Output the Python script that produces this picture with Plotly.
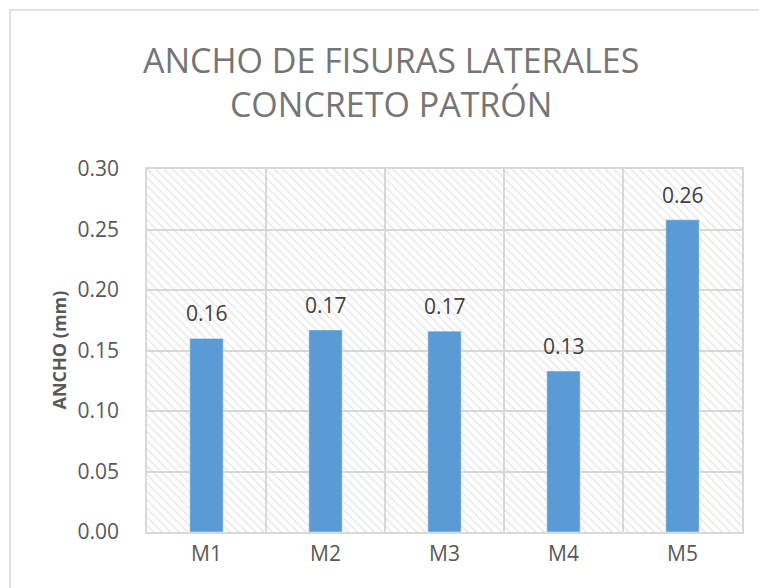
import plotly.graph_objects as go

categories = ["M1", "M2", "M3", "M4", "M5"]
values = [0.160, 0.167, 0.166, 0.133, 0.258]
y_ticks = [0.00, 0.05, 0.10, 0.15, 0.20, 0.25, 0.30]
title_lines = ["ANCHO DE FISURAS LATERALES", "CONCRETO PATRÓN"]
y_title = "ANCHO (mm)"

FONT = "Open Sans"
GRID = "#d9d9d9"
TXT = "#595959"

fig = go.Figure()

# hatched plot-area background on hidden base axes
fig.add_trace(go.Scatter(
    x=[0, 1, 1, 0, 0], y=[0, 0, 1, 1, 0], mode="lines", fill="toself",
    line=dict(width=0), fillcolor="rgba(0,0,0,0)",
    fillpattern=dict(shape="\\", fgcolor="#cfcfcf", bgcolor="rgba(255,255,255,0)",
                     size=6, solidity=0.25),
    hoverinfo="skip", showlegend=False, xaxis="x", yaxis="y"))

fig.add_trace(go.Bar(
    x=categories, y=values, marker_color="#5b9bd5", width=0.28,
    showlegend=False, xaxis="x2", yaxis="y2"))

for c, v in zip(categories, values):
    fig.add_annotation(x=c, y=v, xref="x2", yref="y2", text=f"{v:.2f}",
                       showarrow=False, yanchor="bottom", yshift=9,
                       font=dict(family=FONT, size=21, color="#404040"))

fig.add_annotation(x=(391 - 147) / 595, y=(532 - 82) / 363, xref="paper", yref="paper",
                   text="<br>".join(title_lines), showarrow=False,
                   xanchor="center", yanchor="middle", align="center",
                   font=dict(family=FONT, size=34, color="#757575"))
fig.add_annotation(x=(58 - 147) / 595, y=0.5, xref="paper", yref="paper",
                   text=f"<b>{y_title}</b>", showarrow=False, textangle=-90,
                   xanchor="center", yanchor="middle",
                   font=dict(family=FONT, size=18, color=TXT))

# outer chart frame (left and top edges visible)
fig.add_shape(type="path", xref="paper", yref="paper",
              path=f"M {(10-147)/595} -0.3 L {(10-147)/595} {(532-10)/363} L 1.2 {(532-10)/363}",
              line=dict(color=GRID, width=1.5))

fig.update_layout(
    width=759, height=588,
    margin=dict(l=147, r=17, t=169, b=56),
    paper_bgcolor="white", plot_bgcolor="white",
    xaxis=dict(range=[0, 1], visible=False, fixedrange=True),
    yaxis=dict(range=[0, 1], visible=False, fixedrange=True),
    xaxis2=dict(overlaying="x", anchor="y2", type="category", tickson="boundaries",
                showgrid=True, gridcolor=GRID, gridwidth=1.5, ticks="",
                showline=True, linecolor=GRID, linewidth=1.5, mirror=True,
                ticklabelstandoff=2,
                tickfont=dict(family=FONT, size=21, color=TXT)),
    yaxis2=dict(overlaying="y", anchor="x2", range=[0, 0.30], tickvals=y_ticks,
                tickformat=".2f", showgrid=True, gridcolor=GRID, gridwidth=1.5,
                ticks="", showline=True, linecolor=GRID, linewidth=1.5, mirror=True,
                zeroline=False, ticklabelstandoff=22,
                tickfont=dict(family=FONT, size=21, color=TXT)),
    showlegend=False,
)

fig.write_html("out.html", config={"displayModeBar": False},
               post_script="document.body.style.margin='0';")
